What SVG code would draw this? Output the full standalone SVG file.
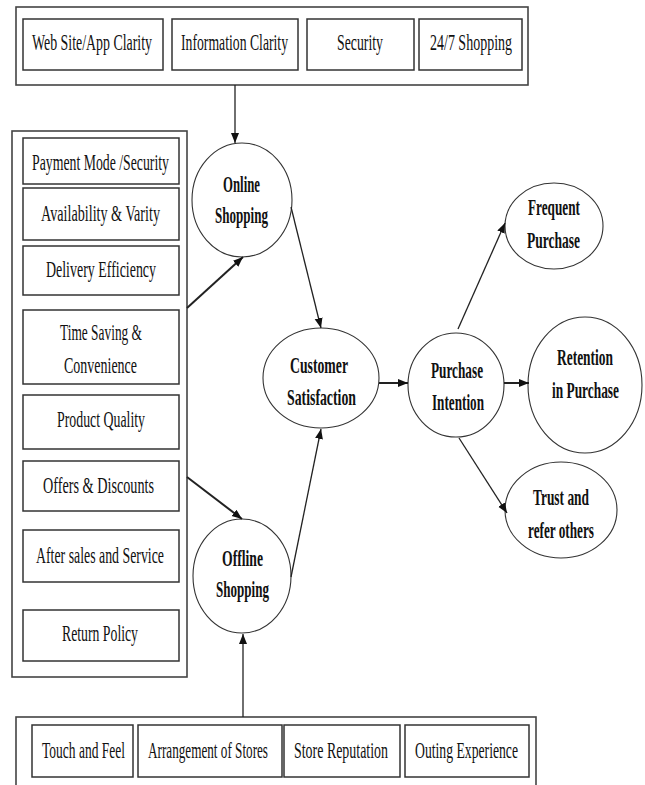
<svg xmlns="http://www.w3.org/2000/svg" width="645" height="785" viewBox="0 0 645 785">
<style>
.outer{fill:#fff;stroke:#444;stroke-width:1.6}
.box{fill:#fff;stroke:#333;stroke-width:1.5}
.circ{fill:#fff;stroke:#333;stroke-width:1.1}
.t{font-family:"Liberation Serif","Times New Roman",serif;font-size:23px;fill:#111;text-anchor:middle}
.b{font-weight:bold}
.c{stroke:#222;stroke-width:1.3;fill:none;marker-end:url(#ah)}
.c2{stroke:#222;stroke-width:2;fill:none;marker-end:url(#ah)}
</style>
<defs>
<marker id="ah" markerUnits="userSpaceOnUse" markerWidth="12" markerHeight="10" refX="10" refY="4" orient="auto">
<path d="M0,0 L10,4 L0,8 Z" fill="#111"/>
</marker>
</defs>
<rect width="645" height="785" fill="#fff"/>

<g id="online-factors">
<rect class="outer" x="16" y="7" width="512" height="78"/>
<g id="n-website"><rect class="box" x="23" y="19" width="140" height="51"/><text class="t" transform="translate(92,50) scale(0.58,1)" textLength="206.9" lengthAdjust="spacingAndGlyphs">Web Site/App Clarity</text></g>
<g id="n-info"><rect class="box" x="172" y="19" width="126" height="51"/><text class="t" transform="translate(234.5,50) scale(0.58,1)" textLength="184.5" lengthAdjust="spacingAndGlyphs">Information Clarity</text></g>
<g id="n-security"><rect class="box" x="307" y="19" width="107" height="51"/><text class="t" transform="translate(360,50) scale(0.58,1)" textLength="79.3" lengthAdjust="spacingAndGlyphs">Security</text></g>
<g id="n-247"><rect class="box" x="419" y="19" width="103" height="51"/><text class="t" transform="translate(471,50) scale(0.58,1)" textLength="141.4" lengthAdjust="spacingAndGlyphs">24/7 Shopping</text></g>
</g>

<g id="common-factors">
<rect class="outer" x="12" y="131" width="175" height="546"/>
<g id="n-payment"><rect class="box" x="23" y="138" width="156" height="46"/><text class="t" transform="translate(100.5,170) scale(0.58,1)" textLength="236.2" lengthAdjust="spacingAndGlyphs">Payment Mode /Security</text></g>
<g id="n-avail"><rect class="box" x="23" y="188" width="156" height="52"/><text class="t" transform="translate(100.5,221) scale(0.58,1)" textLength="205.2" lengthAdjust="spacingAndGlyphs">Availability &amp; Varity</text></g>
<g id="n-delivery"><rect class="box" x="23" y="246" width="156" height="49"/><text class="t" transform="translate(101,277) scale(0.58,1)" textLength="189.7" lengthAdjust="spacingAndGlyphs">Delivery Efficiency</text></g>
<g id="n-time"><rect class="box" x="23" y="310" width="156" height="74"/><text class="t" transform="translate(101,340) scale(0.58,1)" textLength="141.4" lengthAdjust="spacingAndGlyphs">Time Saving &amp;</text><text class="t" transform="translate(100.5,373) scale(0.58,1)" textLength="125.9" lengthAdjust="spacingAndGlyphs">Convenience</text></g>
<g id="n-quality"><rect class="box" x="23" y="395" width="156" height="54"/><text class="t" transform="translate(101,427) scale(0.58,1)" textLength="151.7" lengthAdjust="spacingAndGlyphs">Product Quality</text></g>
<g id="n-offers"><rect class="box" x="23" y="461" width="156" height="50"/><text class="t" transform="translate(98.5,493) scale(0.58,1)" textLength="191.4" lengthAdjust="spacingAndGlyphs">Offers &amp; Discounts</text></g>
<g id="n-after"><rect class="box" x="23" y="530" width="156" height="52"/><text class="t" transform="translate(100,563) scale(0.58,1)" textLength="220.7" lengthAdjust="spacingAndGlyphs">After sales and Service</text></g>
<g id="n-return"><rect class="box" x="23" y="610" width="156" height="51"/><text class="t" transform="translate(100,641) scale(0.58,1)" textLength="131" lengthAdjust="spacingAndGlyphs">Return Policy</text></g>
</g>

<g id="offline-factors">
<rect class="outer" x="16" y="717" width="520" height="80"/>
<g id="n-touch"><rect class="box" x="32" y="725" width="101" height="52"/><text class="t" transform="translate(83.5,758) scale(0.58,1)" textLength="143.1" lengthAdjust="spacingAndGlyphs">Touch and Feel</text></g>
<g id="n-arrange"><rect class="box" x="138" y="725" width="144" height="52"/><text class="t" transform="translate(208,758) scale(0.58,1)" textLength="206.9" lengthAdjust="spacingAndGlyphs">Arrangement of Stores</text></g>
<g id="n-reputation"><rect class="box" x="284" y="725" width="116" height="52"/><text class="t" transform="translate(341,758) scale(0.58,1)" textLength="162.1" lengthAdjust="spacingAndGlyphs">Store Reputation</text></g>
<g id="n-outing"><rect class="box" x="405" y="725" width="124" height="52"/><text class="t" transform="translate(466.5,758) scale(0.58,1)" textLength="177.6" lengthAdjust="spacingAndGlyphs">Outing Experience</text></g>
</g>

<g id="n-online"><ellipse class="circ" cx="242" cy="200" rx="50" ry="57"/><text class="t b" transform="translate(241.5,192) scale(0.58,1)" textLength="63.8" lengthAdjust="spacingAndGlyphs">Online</text><text class="t b" transform="translate(241.5,223) scale(0.58,1)" textLength="91.4" lengthAdjust="spacingAndGlyphs">Shopping</text></g>
<g id="n-offline"><ellipse class="circ" cx="242" cy="576" rx="49" ry="57"/><text class="t b" transform="translate(242.5,566) scale(0.58,1)" textLength="70.7" lengthAdjust="spacingAndGlyphs">Offline</text><text class="t b" transform="translate(242.5,597) scale(0.58,1)" textLength="91.4" lengthAdjust="spacingAndGlyphs">Shopping</text></g>
<g id="n-satisfaction"><ellipse class="circ" cx="321" cy="378" rx="58" ry="50"/><text class="t b" transform="translate(319,373) scale(0.58,1)" textLength="100" lengthAdjust="spacingAndGlyphs">Customer</text><text class="t b" transform="translate(321.5,405) scale(0.58,1)" textLength="119" lengthAdjust="spacingAndGlyphs">Satisfaction</text></g>
<g id="n-intention"><ellipse class="circ" cx="456" cy="385" rx="48" ry="52"/><text class="t b" transform="translate(457,378) scale(0.58,1)" textLength="89.7" lengthAdjust="spacingAndGlyphs">Purchase</text><text class="t b" transform="translate(458,410) scale(0.58,1)" textLength="89.7" lengthAdjust="spacingAndGlyphs">Intention</text></g>
<g id="n-frequent"><ellipse class="circ" cx="554" cy="226" rx="49" ry="43"/><text class="t b" transform="translate(554,215) scale(0.58,1)" textLength="89.7" lengthAdjust="spacingAndGlyphs">Frequent</text><text class="t b" transform="translate(553.5,248) scale(0.58,1)" textLength="91.4" lengthAdjust="spacingAndGlyphs">Purchase</text></g>
<g id="n-retention"><ellipse class="circ" cx="585" cy="385" rx="57" ry="68"/><text class="t b" transform="translate(585,365) scale(0.58,1)" textLength="96.6" lengthAdjust="spacingAndGlyphs">Retention</text><text class="t b" transform="translate(585.5,398) scale(0.58,1)" textLength="115.5" lengthAdjust="spacingAndGlyphs">in Purchase</text></g>
<g id="n-trust"><ellipse class="circ" cx="561" cy="510" rx="56" ry="48"/><text class="t b" transform="translate(561,505) scale(0.58,1)" textLength="96.6" lengthAdjust="spacingAndGlyphs">Trust and</text><text class="t b" transform="translate(561,538) scale(0.58,1)" textLength="113.8" lengthAdjust="spacingAndGlyphs">refer others</text></g>

<g id="connectors">
<line class="c" x1="235" y1="85" x2="235" y2="143"/>
<line class="c2" x1="187" y1="308" x2="243" y2="257"/>
<line class="c2" x1="187" y1="477" x2="242" y2="519"/>
<line class="c" x1="243" y1="717" x2="243" y2="634"/>
<line class="c" x1="291" y1="207" x2="321" y2="328"/>
<line class="c" x1="291" y1="577" x2="321" y2="429"/>
<line class="c2" x1="379" y1="383" x2="408" y2="383"/>
<line class="c" x1="458" y1="329" x2="505" y2="223"/>
<line class="c2" x1="504" y1="383" x2="529" y2="383"/>
<line class="c" x1="459" y1="438" x2="507" y2="513"/>
</g>
</svg>
